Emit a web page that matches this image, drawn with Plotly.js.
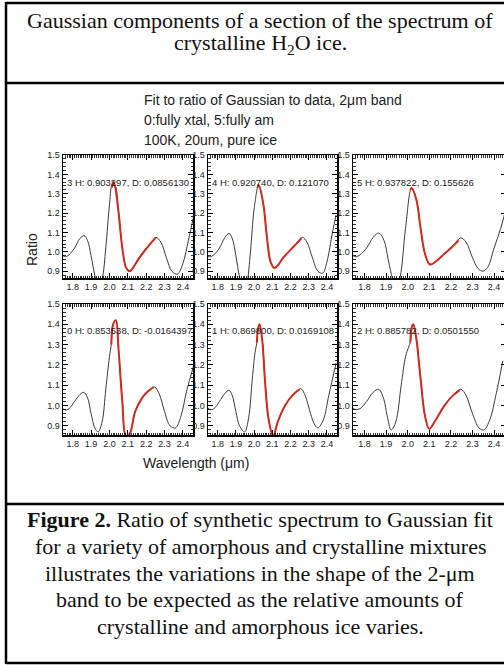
<!DOCTYPE html>
<html><head><meta charset="utf-8">
<script src="https://cdn.plot.ly/plotly-3.0.1.min.js"></script>
<style>html,body{margin:0;padding:0;overflow:hidden;background:#fff}</style>
</head><body><div id="chart" style="width:520px;height:665px"></div>
<script>
// ---- data ----
var panelLabels = ["3 H: 0.903297, D: 0.0856130", "4 H: 0.920740, D: 0.121070", "5 H: 0.937822, D: 0.155626",
                   "0 H: 0.853538, D: -0.0164397", "1 H: 0.869800, D: 0.0169108", "2 H: 0.885782, D: 0.0501550"];
var xTicks = [1.8, 1.9, 2.0, 2.1, 2.2, 2.3, 2.4];
var yTicks = [0.9, 1.0, 1.1, 1.2, 1.3, 1.4, 1.5];

// panel 3 (top left)
var wl3 = [1.747,1.76,1.78,1.81,1.84,1.862,1.88,1.90,1.92,1.94,1.96,1.98,2.00,2.015,2.03,2.05,2.07,2.09,2.11,2.13,2.16,2.20,2.23,2.253,2.28,2.31,2.34,2.37,2.40,2.43,2.46];
var ratio3 = [0.98,0.975,0.985,1.02,1.07,1.083,1.06,0.98,0.88,0.82,0.86,1.02,1.24,1.34,1.34,1.20,1.02,0.92,0.90,0.92,0.97,1.02,1.05,1.075,1.05,0.97,0.90,0.885,0.94,1.06,1.19];
var fitWl3 = [2.012,2.02,2.03,2.05,2.07,2.09,2.11,2.13,2.16,2.20,2.23,2.253];
var fit3 = [1.33,1.36,1.34,1.20,1.02,0.92,0.90,0.92,0.965,1.015,1.05,1.075];

// panel 4 (top middle)
var wl4 = [1.745,1.76,1.78,1.81,1.84,1.862,1.88,1.90,1.92,1.94,1.96,1.98,2.00,2.025,2.05,2.07,2.09,2.111,2.13,2.16,2.20,2.23,2.265,2.29,2.32,2.35,2.377,2.40,2.43,2.45];
var ratio4 = [0.976,0.975,0.985,1.02,1.075,1.095,1.07,0.98,0.87,0.80,0.84,1.00,1.22,1.345,1.25,1.08,0.95,0.917,0.93,0.97,1.01,1.04,1.075,1.05,0.97,0.90,0.89,0.95,1.10,1.19];
var fitWl4 = [2.018,2.025,2.05,2.07,2.09,2.111,2.13,2.16,2.20,2.23,2.26];
var fit4 = [1.33,1.345,1.25,1.08,0.95,0.917,0.93,0.97,1.01,1.04,1.07];

// panel 5 (top right)
var wl5 = [1.745,1.76,1.78,1.81,1.84,1.866,1.89,1.91,1.93,1.945,1.965,1.99,2.018,2.04,2.06,2.08,2.103,2.13,2.17,2.21,2.246,2.27,2.30,2.325,2.348,2.37,2.40,2.43,2.45];
var ratio5 = [0.98,0.975,0.985,1.02,1.075,1.097,1.06,0.96,0.86,0.81,0.87,1.12,1.33,1.27,1.12,0.99,0.935,0.95,0.99,1.03,1.072,1.05,0.97,0.915,0.90,0.92,1.02,1.12,1.2];
var fitWl5 = [2.012,2.018,2.04,2.06,2.08,2.103,2.13,2.17,2.21,2.235];
var fit5 = [1.32,1.33,1.27,1.12,0.99,0.935,0.95,0.99,1.03,1.06];

// panel 0 (bottom left)
var wl0 = [1.75,1.76,1.78,1.81,1.84,1.86,1.88,1.90,1.92,1.938,1.96,1.98,2.00,2.01,2.02,2.035,2.05,2.07,2.09,2.11,2.14,2.18,2.21,2.244,2.27,2.30,2.33,2.36,2.39,2.42,2.46];
var ratio0 = [0.985,0.978,0.985,1.02,1.055,1.065,1.04,0.96,0.89,0.87,0.92,1.08,1.24,1.30,1.40,1.42,1.27,1.02,0.85,0.86,0.97,1.04,1.07,1.092,1.06,0.97,0.90,0.89,0.95,1.07,1.2];
var fitWl0 = [2.01,2.02,2.035,2.05,2.07,2.09,2.11,2.14,2.18,2.21,2.24];
var fit0 = [1.30,1.40,1.42,1.27,1.02,0.85,0.86,0.97,1.04,1.07,1.09];

// panel 1 (bottom middle)
var wl1 = [1.745,1.76,1.78,1.81,1.84,1.862,1.88,1.90,1.92,1.948,1.97,1.99,2.005,2.015,2.022,2.03,2.045,2.06,2.08,2.105,2.13,2.17,2.21,2.256,2.28,2.31,2.33,2.35,2.38,2.41,2.45];
var ratio1 = [0.99,0.98,0.985,1.02,1.06,1.075,1.05,0.97,0.90,0.87,0.94,1.13,1.26,1.31,1.38,1.40,1.32,1.12,0.93,0.85,0.92,1.00,1.05,1.083,1.05,0.96,0.91,0.89,0.93,1.05,1.21];
var fitWl1 = [2.015,2.022,2.03,2.045,2.06,2.08,2.105,2.13,2.17,2.21,2.25];
var fit1 = [1.31,1.38,1.40,1.32,1.12,0.93,0.85,0.92,1.00,1.05,1.08];

// panel 2 (bottom right)
var wl2 = [1.745,1.76,1.78,1.81,1.84,1.866,1.89,1.905,1.924,1.945,1.97,1.99,2.005,2.012,2.02,2.026,2.04,2.06,2.08,2.10,2.13,2.17,2.21,2.246,2.27,2.30,2.33,2.353,2.38,2.41,2.44];
var ratio2 = [0.99,0.98,0.985,1.02,1.065,1.08,1.03,0.95,0.88,0.92,1.10,1.24,1.29,1.31,1.39,1.40,1.33,1.13,0.95,0.885,0.93,1.00,1.05,1.08,1.05,0.96,0.89,0.88,0.93,1.06,1.22];
var fitWl2 = [2.012,2.02,2.026,2.04,2.06,2.08,2.10,2.13,2.17,2.21,2.24];
var fit2 = [1.31,1.39,1.40,1.33,1.13,0.95,0.885,0.93,1.00,1.05,1.075];

// ---- layout helpers ----
var W = 520, H = 665;
function px(x){ return x / W; }
function py(y){ return 1 - y / H; }

var curves = [[wl3,ratio3,fitWl3,fit3],[wl4,ratio4,fitWl4,fit4],[wl5,ratio5,fitWl5,fit5],
              [wl0,ratio0,fitWl0,fit0],[wl1,ratio1,fitWl1,fit1],[wl2,ratio2,fitWl2,fit2]];
var colPx = [[63,193],[208,337],[353,506]];
var rowPx = [[155,278],[304,435]];
var rowRange = [[0.865,1.5],[0.855,1.5]];
var xRange = [1.747,2.455];

var data = [];
var layout = {
  width: W, height: H, margin:{l:0,r:0,t:0,b:0},
  paper_bgcolor:'#fff', plot_bgcolor:'#fff', showlegend:false,
  font:{family:'Liberation Sans, Arial, sans-serif', color:'#222'},
  annotations:[], shapes:[]
};

for (var i=0;i<6;i++){
  var r = Math.floor(i/3), c = i%3, n = i+1;
  var xa = 'x'+(n===1?'':n), ya = 'y'+(n===1?'':n);
  data.push({x:curves[i][0], y:curves[i][1], xaxis:xa, yaxis:ya, type:'scatter', mode:'lines',
             line:{color:'#3a3a3a', width:1, shape:'spline', smoothing:1}, hoverinfo:'skip'});
  data.push({x:curves[i][2], y:curves[i][3], xaxis:xa, yaxis:ya, type:'scatter', mode:'lines',
             line:{color:'#d42a1e', width:2, shape:'spline', smoothing:1}, hoverinfo:'skip'});
  var common = {showgrid:false, zeroline:false, showline:true, linecolor:'#000', linewidth:1.5,
                mirror:'allticks', ticks:'inside', tickcolor:'#000', tickwidth:1,
                tickfont:{size:9, color:'#222', family:'Liberation Sans, Arial, sans-serif'}, tickformat:'.1f',
                fixedrange:true};
  layout['xaxis'+(n===1?'':n)] = Object.assign({}, common, {
    domain:[px(colPx[c][0]), px(colPx[c][1])], range:xRange, anchor:ya,
    tickmode:'array', tickvals:xTicks, ticklen:5,
    minor:{ticks:'inside', ticklen:2.5, dtick:0.01, tick0:1.7, tickcolor:'#000', tickwidth:0.8}
  });
  layout['yaxis'+(n===1?'':n)] = Object.assign({}, common, {
    domain:[py(rowPx[r][1]), py(rowPx[r][0])], range:rowRange[r], anchor:xa,
    tickmode:'array', tickvals:yTicks, ticklen:5,
    minor:{ticks:'inside', ticklen:2.5, dtick:0.02, tick0:0.8, tickcolor:'#000', tickwidth:0.8}
  });
  layout.annotations.push({xref:xa+' domain', yref:ya+' domain', x:0.012, y:(r===0?0.78:0.794),
    xanchor:'left', yanchor:'middle', showarrow:false, text:panelLabels[i],
    font:{size:9.5, color:'#222'}});
}

// header texts of the plot
var hdr = ['Fit to ratio of Gaussian to data, 2\u03bcm band','0:fully xtal, 5:fully am','100K, 20um, pure ice'];
var hdrY = [100,120,140];
for (var k=0;k<3;k++){
  layout.annotations.push({xref:'paper', yref:'paper', x:px(142), y:py(hdrY[k]), xanchor:'left', yanchor:'middle',
    showarrow:false, text:hdr[k], font:{size:14, color:'#222'}});
}
layout.annotations.push({xref:'paper', yref:'paper', x:px(32), y:py(250), xanchor:'center', yanchor:'middle',
  showarrow:false, text:'Ratio', textangle:-90, font:{size:14, color:'#222'}});
layout.annotations.push({xref:'paper', yref:'paper', x:px(196), y:py(463), xanchor:'center', yanchor:'middle',
  showarrow:false, text:'Wavelength (\u03bcm)', font:{size:14, color:'#222'}});

// document title box
var serif = 'Liberation Serif, Times New Roman, serif';
layout.annotations.push({xref:'paper', yref:'paper', x:px(260), y:py(20), xanchor:'center', yanchor:'middle',
  showarrow:false, text:'Gaussian components of a section of the spectrum of', font:{size:22, family:serif, color:'#111'}});
layout.annotations.push({xref:'paper', yref:'paper', x:px(260), y:py(44), xanchor:'center', yanchor:'middle',
  showarrow:false, text:'crystalline H<sub>2</sub>O ice.', font:{size:22, family:serif, color:'#111'}});

var cap = ['<b>Figure 2.</b> Ratio of synthetic spectrum to Gaussian fit',
           'for a variety of amorphous and crystalline mixtures',
           'illustrates the variations in the shape of the 2-\u03bcm',
           'band to be expected as the relative amounts of',
           'crystalline and amorphous ice varies.'];
var capY = [519,546,573,599,626];
for (var k=0;k<cap.length;k++){
  layout.annotations.push({xref:'paper', yref:'paper', x:px(260), y:py(capY[k]), xanchor:'center', yanchor:'middle',
    showarrow:false, text:cap[k], font:{size:22, family:serif, color:'#111'}});
}

// frame lines
var lc = {color:'#000', width:2.5};
layout.shapes.push({type:'line', xref:'paper', yref:'paper', x0:px(6), x1:1.02, y0:py(3), y1:py(3), line:lc});
layout.shapes.push({type:'line', xref:'paper', yref:'paper', x0:px(6), x1:1.02, y0:py(83), y1:py(83), line:lc});
layout.shapes.push({type:'line', xref:'paper', yref:'paper', x0:px(6), x1:1.02, y0:py(504), y1:py(504), line:lc});
layout.shapes.push({type:'line', xref:'paper', yref:'paper', x0:px(6), x1:1.02, y0:py(663), y1:py(663), line:lc});
layout.shapes.push({type:'line', xref:'paper', yref:'paper', x0:px(6), x1:px(6), y0:py(2), y1:py(664), line:lc});

Plotly.newPlot('chart', data, layout, {displayModeBar:false, staticPlot:true});
</script></body></html>
